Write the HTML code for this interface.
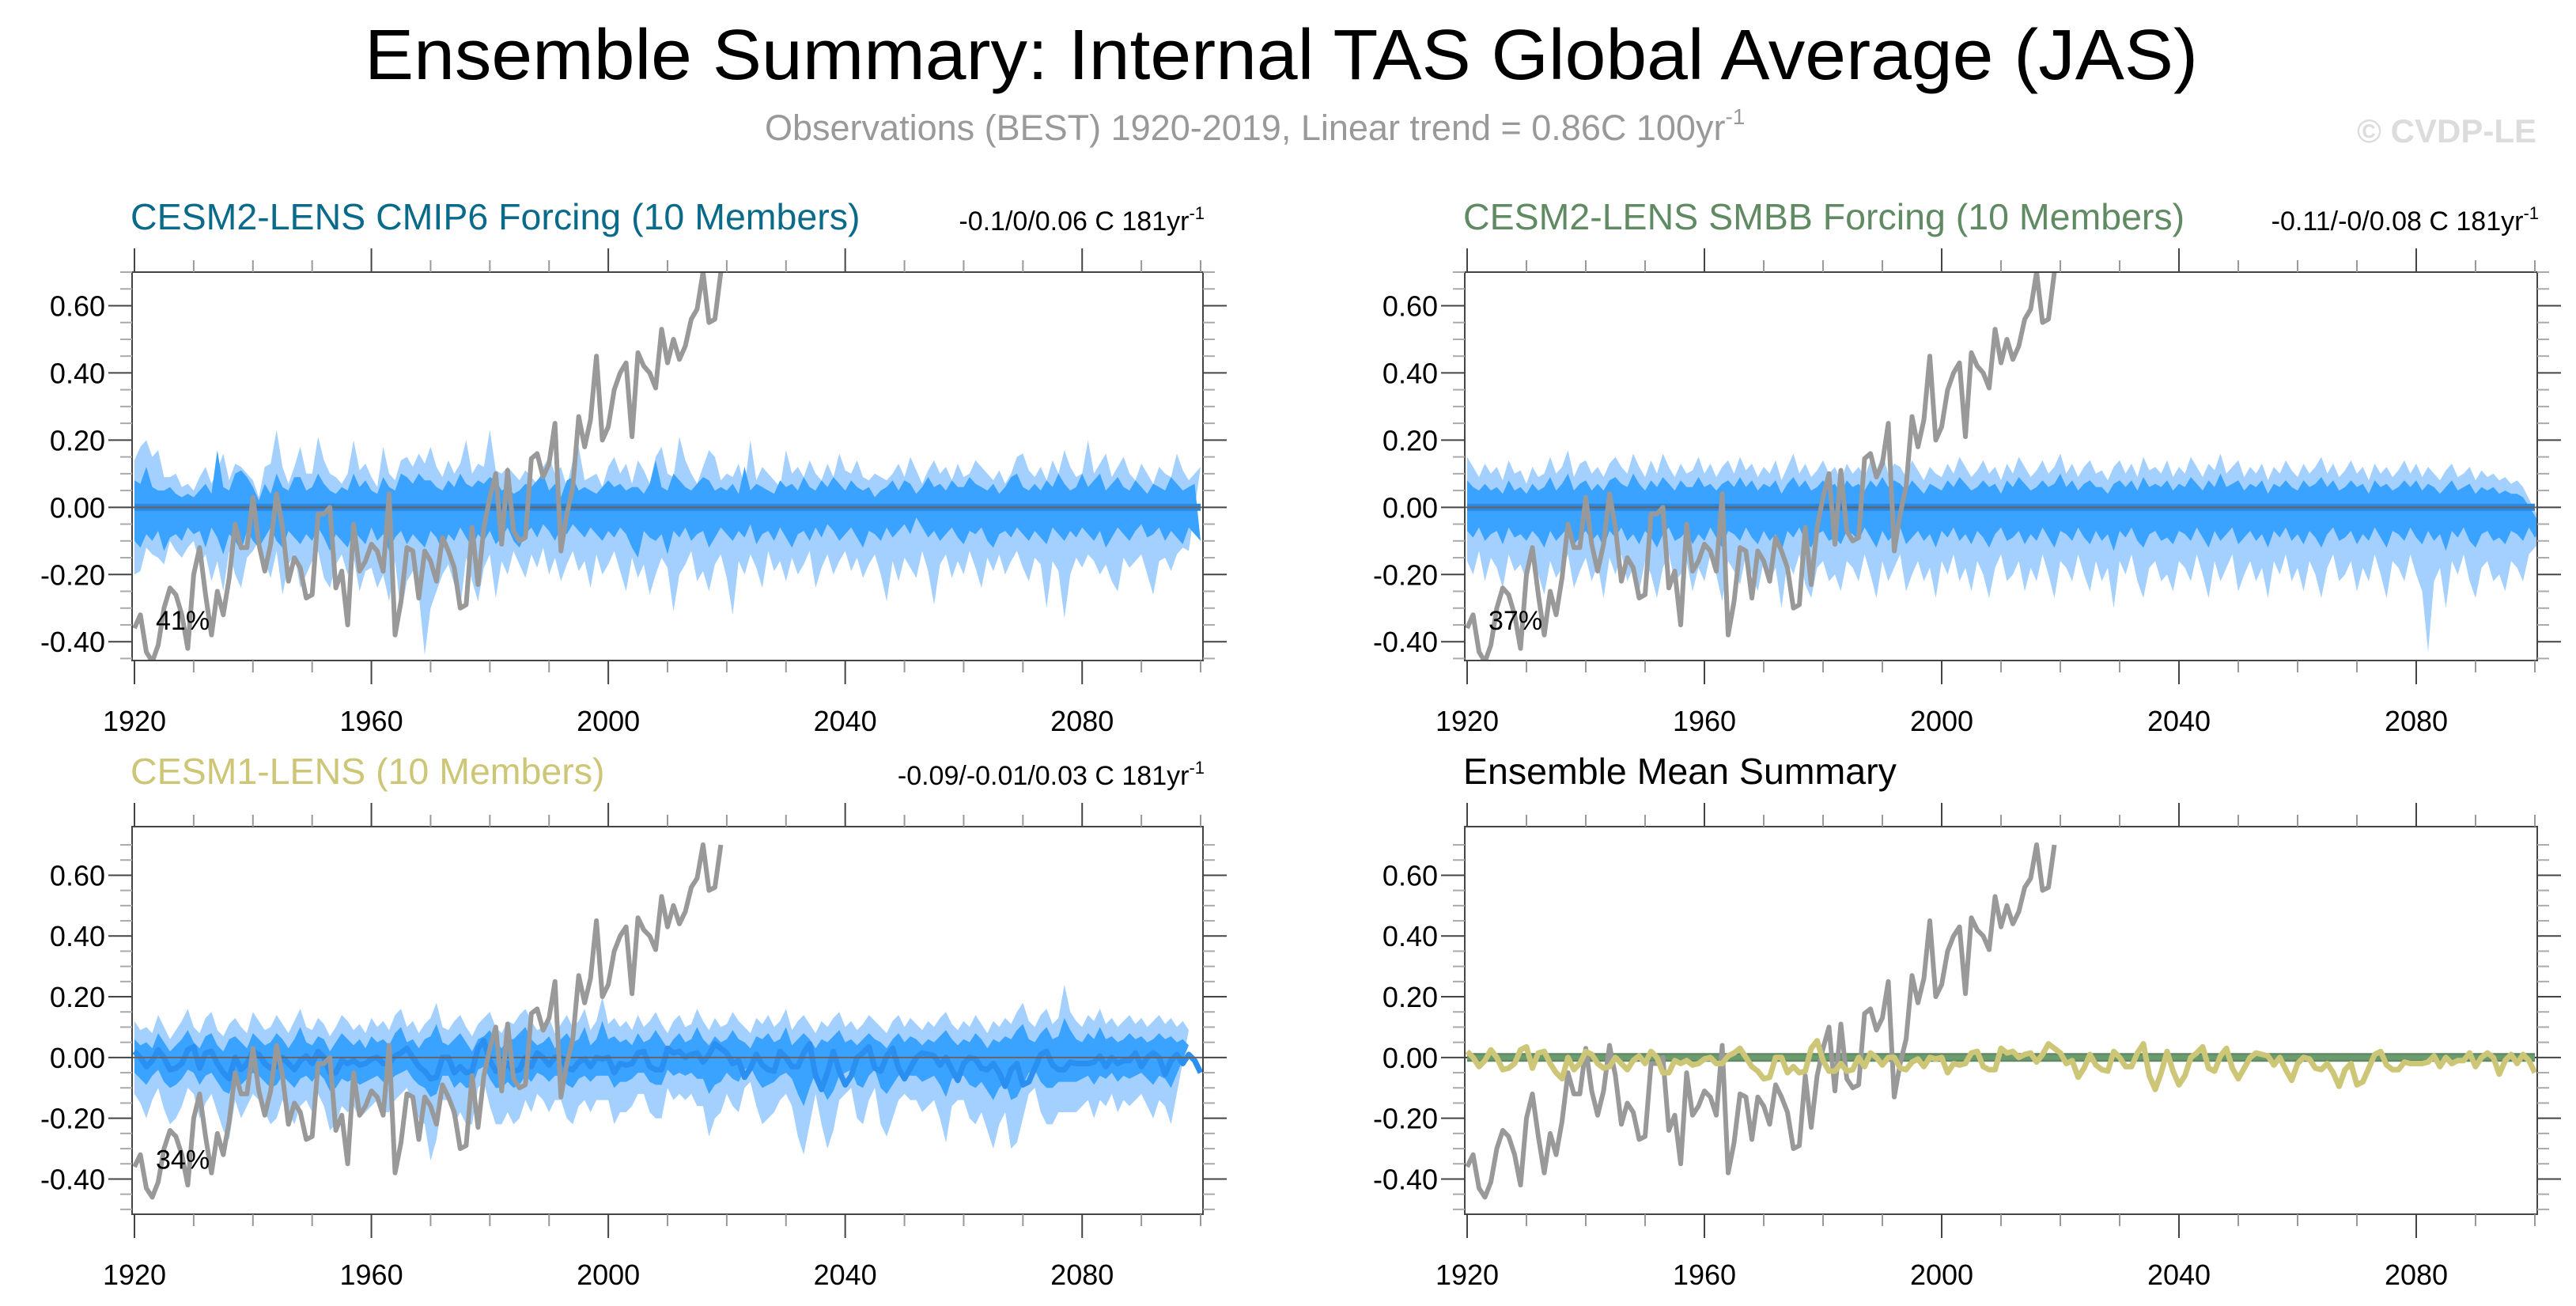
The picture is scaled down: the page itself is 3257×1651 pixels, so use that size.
<!DOCTYPE html>
<html><head><meta charset="utf-8"><title>Ensemble Summary</title>
<style>html,body{margin:0;padding:0;background:#fff}svg{display:block}text{font-family:"Liberation Sans",Arial,sans-serif}</style>
</head><body>
<svg id="chart" width="3257" height="1651" viewBox="0 0 3257 1651" xmlns="http://www.w3.org/2000/svg">
<rect width="3257" height="1651" fill="#fff"/>
<text x="1620" y="100" font-size="90" text-anchor="middle" textLength="2318" lengthAdjust="spacingAndGlyphs">Ensemble Summary: Internal TAS Global Average (JAS)</text>
<text x="967" y="177" font-size="45" fill="#999">Observations (BEST) 1920-2019, Linear trend = 0.86C 100yr<tspan font-size="28" dy="-20">-1</tspan></text>
<text x="3207" y="180" font-size="42" font-weight="bold" fill="#dcdcdc" text-anchor="end">© CVDP-LE</text>
<g id="panels"></g>
</svg>
<script>
const years=[1920,2100];
const xTickLabels=["1920","1960","2000","2040","2080"];
const yTickValues=[-0.4,-0.2,0,0.2,0.4,0.6];
const yTickLabels=["-0.40","-0.20","0.00","0.20","0.40","0.60"];
const obs=[-0.36,-0.32,-0.43,-0.46,-0.41,-0.30,-0.24,-0.26,-0.32,-0.42,-0.20,-0.12,-0.26,-0.38,-0.25,-0.32,-0.21,-0.05,-0.12,-0.12,0.03,-0.11,-0.19,-0.11,0.04,-0.06,-0.22,-0.15,-0.18,-0.27,-0.26,-0.02,-0.02,0.00,-0.24,-0.19,-0.35,-0.05,-0.19,-0.16,-0.11,-0.13,-0.19,0.04,-0.38,-0.28,-0.12,-0.13,-0.27,-0.13,-0.16,-0.22,-0.09,-0.13,-0.18,-0.30,-0.29,-0.06,-0.23,-0.06,0.03,0.10,-0.11,0.11,-0.07,-0.10,-0.09,0.145,0.16,0.09,0.13,0.25,-0.13,-0.02,0.06,0.27,0.18,0.26,0.45,0.20,0.24,0.35,0.40,0.43,0.21,0.46,0.42,0.40,0.355,0.53,0.43,0.50,0.44,0.48,0.56,0.59,0.70,0.55,0.56,0.70];
const cesm1Mean=[0.02,0,-0.03,-0.01,0.025,0,-0.04,-0.035,-0.02,0.025,0.035,-0.035,0.015,0.02,-0.02,-0.05,-0.07,0,-0.04,-0.02,0.02,0.01,-0.02,-0.035,-0.03,0,-0.02,-0.04,-0.01,0.005,-0.02,0.02,0,-0.05,-0.05,-0.01,-0.02,-0.01,-0.025,-0.02,-0.005,0,-0.02,-0.02,0.005,0.015,0.03,0,-0.03,-0.045,-0.07,-0.065,0,0,-0.05,-0.03,-0.05,-0.045,0.03,0.055,-0.01,-0.045,-0.045,-0.02,-0.045,-0.04,0,-0.03,0.015,0,-0.025,0,0,-0.035,-0.04,-0.015,-0.005,-0.03,0,-0.005,0,-0.05,-0.02,-0.025,-0.02,0.015,0.02,-0.03,-0.04,-0.04,0.03,0.015,0.02,0,0.01,0.015,-0.015,0.01,0.045,0.03,0.015,-0.02,-0.01,-0.065,-0.035,0.01,-0.025,-0.04,-0.045,0.02,0,-0.03,-0.03,0.015,0.045,-0.06,-0.105,-0.05,0.02,-0.045,-0.09,-0.06,0,0.015,0.035,-0.035,-0.045,0.005,0.03,-0.035,-0.07,-0.035,0,0.015,0.01,0.005,-0.025,0,-0.04,-0.075,-0.02,0,-0.005,-0.035,-0.04,-0.02,-0.05,-0.095,-0.04,-0.02,-0.09,-0.08,-0.035,0.01,0.02,-0.025,-0.04,-0.04,-0.015,-0.02,-0.02,-0.02,-0.015,0.005,-0.03,0,-0.02,-0.01,-0.01,0.015,-0.03,0,0.015,0,-0.055,-0.01,0.01,-0.02,0.01,-0.01,-0.05];
const cesm2Mean=[0,0,0,0,0,0,0,0,0,0,0,0,0,0,0,0,0,0,0,0,0,0,0,0,0,0,0,0,0,0,0,0,0,0,0,0,0,0,0,0,0,0,0,0,0,0,0,0,0,0,0,0,0,0,0,0,0,0,0,0,0,0,0,0,0,0,0,0,0,0,0,0,0,0,0,0,0,0,0,0,0,0,0,0,0,0,0,0,0,0,0,0,0,0,0,0,0,0,0,0,0,0,0,0,0,0,0,0,0,0,0,0,0,0,0,0,0,0,0,0,0,0,0,0,0,0,0,0,0,0,0,0,0,0,0,0,0,0,0,0,0,0,0,0,0,0,0,0,0,0,0,0,0,0,0,0,0,0,0,0,0,0,0,0,0,0,0,0,0,0,0,0,0,0,0,0,0,0,0,0,0];
const tlLightUp=[0.14,0.18,0.2,0.15,0.17,0.09,0.09,0.1,0.06,0.07,0.05,0.09,0.12,0.07,0.11,0.16,0.08,0.13,0.12,0.1,0.08,0.03,0.12,0.13,0.23,0.12,0.07,0.12,0.18,0.1,0.1,0.21,0.14,0.1,0.09,0.07,0.1,0.2,0.11,0.13,0.09,0.06,0.18,0.1,0.08,0.14,0.15,0.12,0.16,0.13,0.18,0.12,0.09,0.14,0.1,0.13,0.2,0.1,0.13,0.12,0.23,0.11,0.1,0.12,0.1,0.08,0.11,0.09,0.07,0.12,0.15,0.1,0.12,0.06,0.14,0.18,0.08,0.09,0.1,0.06,0.12,0.15,0.1,0.13,0.07,0.14,0.11,0.07,0.15,0.18,0.1,0.09,0.21,0.14,0.1,0.07,0.12,0.17,0.15,0.08,0.1,0.09,0.13,0.06,0.2,0.08,0.12,0.1,0.08,0.06,0.17,0.1,0.12,0.09,0.14,0.1,0.08,0.13,0.09,0.16,0.11,0.1,0.14,0.09,0.08,0.1,0.09,0.08,0.1,0.13,0.09,0.15,0.11,0.07,0.11,0.14,0.1,0.12,0.08,0.13,0.09,0.1,0.14,0.12,0.1,0.08,0.11,0.07,0.1,0.15,0.16,0.11,0.09,0.12,0.08,0.14,0.1,0.17,0.12,0.09,0.1,0.2,0.1,0.13,0.16,0.09,0.12,0.15,0.1,0.08,0.13,0.1,0.07,0.12,0.1,0.09,0.16,0.11,0.08,0.1,0.12];
const tlDarkUp=[0.08,0.07,0.12,0.06,0.05,0.05,0.06,0.04,0.03,0.04,0.03,0.05,0.07,0.04,0.17,0.06,0.05,0.1,0.11,0.09,0.06,0.02,0.07,0.04,0.1,0.06,0.05,0.09,0.09,0.05,0.06,0.1,0.07,0.05,0.04,0.06,0.05,0.1,0.06,0.08,0.05,0.04,0.09,0.06,0.05,0.1,0.09,0.07,0.1,0.08,0.08,0.06,0.05,0.08,0.06,0.1,0.07,0.06,0.08,0.07,0.09,0.08,0.05,0.06,0.04,0.05,0.07,0.06,0.08,0.1,0.05,0.07,0.03,0.08,0.09,0.05,0.06,0.05,0.04,0.06,0.08,0.06,0.07,0.05,0.06,0.06,0.04,0.07,0.14,0.06,0.05,0.1,0.08,0.06,0.05,0.07,0.09,0.08,0.05,0.06,0.05,0.07,0.04,0.12,0.05,0.07,0.06,0.05,0.04,0.08,0.06,0.07,0.05,0.09,0.06,0.05,0.08,0.06,0.09,0.07,0.05,0.08,0.06,0.05,0.06,0.03,0.05,0.06,0.08,0.05,0.08,0.07,0.04,0.06,0.09,0.06,0.07,0.05,0.08,0.06,0.06,0.09,0.07,0.06,0.05,0.07,0.04,0.06,0.09,0.1,0.06,0.05,0.07,0.05,0.08,0.06,0.1,0.07,0.05,0.06,0.1,0.06,0.08,0.1,0.05,0.07,0.09,0.06,0.05,0.08,0.06,0.04,0.07,0.06,0.05,0.09,0.07,0.05,0.06,0.07];
const tlDarkLo=[-0.1,-0.12,-0.08,-0.1,-0.07,-0.13,-0.09,-0.08,-0.1,-0.06,-0.08,-0.07,-0.12,-0.06,-0.09,-0.14,-0.08,-0.1,-0.13,-0.07,-0.1,-0.12,-0.09,-0.06,-0.1,-0.12,-0.07,-0.09,-0.11,-0.08,-0.1,-0.06,-0.09,-0.13,-0.08,-0.1,-0.12,-0.07,-0.09,-0.11,-0.06,-0.1,-0.08,-0.13,-0.09,-0.07,-0.11,-0.08,-0.1,-0.12,-0.07,-0.09,-0.13,-0.08,-0.1,-0.06,-0.09,-0.12,-0.08,-0.1,-0.07,-0.11,-0.09,-0.06,-0.1,-0.12,-0.08,-0.06,-0.09,-0.05,-0.07,-0.1,-0.06,-0.08,-0.05,-0.07,-0.09,-0.06,-0.08,-0.1,-0.07,-0.09,-0.06,-0.08,-0.12,-0.15,-0.07,-0.09,-0.1,-0.08,-0.14,-0.07,-0.09,-0.06,-0.1,-0.08,-0.07,-0.12,-0.09,-0.06,-0.08,-0.1,-0.07,-0.09,-0.05,-0.11,-0.08,-0.07,-0.1,-0.06,-0.09,-0.12,-0.08,-0.07,-0.1,-0.06,-0.09,-0.05,-0.07,-0.1,-0.08,-0.06,-0.09,-0.12,-0.07,-0.08,-0.1,-0.06,-0.09,-0.07,-0.05,-0.08,-0.03,-0.06,-0.09,-0.07,-0.1,-0.08,-0.06,-0.09,-0.11,-0.07,-0.08,-0.06,-0.1,-0.12,-0.08,-0.07,-0.09,-0.06,-0.08,-0.1,-0.07,-0.09,-0.11,-0.06,-0.08,-0.1,-0.07,-0.09,-0.06,-0.08,-0.1,-0.07,-0.12,-0.09,-0.06,-0.08,-0.1,-0.07,-0.05,-0.09,-0.08,-0.06,-0.1,-0.07,-0.09,-0.11,-0.06,-0.08,-0.1];
const tlLightLo=[-0.2,-0.19,-0.12,-0.14,-0.15,-0.17,-0.1,-0.13,-0.15,-0.12,-0.1,-0.17,-0.14,-0.22,-0.16,-0.25,-0.13,-0.2,-0.24,-0.15,-0.13,-0.1,-0.16,-0.21,-0.13,-0.26,-0.17,-0.14,-0.24,-0.2,-0.16,-0.13,-0.21,-0.24,-0.17,-0.14,-0.2,-0.15,-0.25,-0.19,-0.18,-0.24,-0.2,-0.28,-0.16,-0.32,-0.22,-0.19,-0.26,-0.44,-0.3,-0.25,-0.2,-0.17,-0.23,-0.3,-0.15,-0.22,-0.28,-0.18,-0.14,-0.27,-0.16,-0.2,-0.13,-0.17,-0.21,-0.14,-0.18,-0.12,-0.2,-0.15,-0.22,-0.17,-0.13,-0.19,-0.16,-0.24,-0.14,-0.2,-0.17,-0.13,-0.19,-0.25,-0.15,-0.21,-0.17,-0.26,-0.2,-0.15,-0.18,-0.31,-0.2,-0.17,-0.13,-0.22,-0.19,-0.25,-0.17,-0.14,-0.21,-0.32,-0.16,-0.2,-0.14,-0.18,-0.24,-0.13,-0.19,-0.16,-0.22,-0.15,-0.2,-0.17,-0.13,-0.24,-0.18,-0.14,-0.2,-0.16,-0.13,-0.19,-0.15,-0.21,-0.17,-0.14,-0.2,-0.28,-0.16,-0.22,-0.15,-0.18,-0.21,-0.13,-0.19,-0.29,-0.17,-0.14,-0.21,-0.16,-0.2,-0.13,-0.18,-0.24,-0.15,-0.19,-0.14,-0.2,-0.16,-0.13,-0.18,-0.22,-0.15,-0.17,-0.3,-0.16,-0.19,-0.33,-0.2,-0.15,-0.18,-0.14,-0.16,-0.2,-0.17,-0.22,-0.25,-0.15,-0.18,-0.16,-0.14,-0.2,-0.26,-0.16,-0.15,-0.19,-0.14,-0.12,-0.13];
const trLightUp=[0.15,0.12,0.09,0.13,0.1,0.12,0.08,0.14,0.1,0.11,0.07,0.12,0.09,0.1,0.15,0.1,0.12,0.17,0.09,0.13,0.14,0.1,0.12,0.09,0.13,0.15,0.12,0.1,0.16,0.12,0.09,0.14,0.1,0.16,0.12,0.09,0.13,0.1,0.11,0.15,0.1,0.13,0.09,0.12,0.14,0.1,0.15,0.11,0.13,0.09,0.12,0.1,0.14,0.08,0.12,0.16,0.1,0.13,0.09,0.11,0.14,0.1,0.12,0.08,0.13,0.1,0.12,0.09,0.14,0.11,0.16,0.1,0.13,0.12,0.09,0.14,0.11,0.08,0.12,0.1,0.09,0.13,0.1,0.15,0.12,0.09,0.11,0.14,0.1,0.12,0.08,0.13,0.1,0.15,0.12,0.09,0.11,0.14,0.1,0.12,0.16,0.1,0.13,0.09,0.12,0.14,0.1,0.11,0.08,0.12,0.14,0.1,0.13,0.09,0.15,0.11,0.12,0.1,0.14,0.09,0.12,0.1,0.15,0.12,0.09,0.13,0.11,0.16,0.1,0.12,0.14,0.09,0.12,0.1,0.13,0.08,0.12,0.1,0.14,0.11,0.09,0.13,0.1,0.12,0.15,0.1,0.13,0.09,0.11,0.14,0.1,0.12,0.08,0.13,0.1,0.12,0.09,0.11,0.14,0.1,0.13,0.09,0.12,0.1,0.08,0.11,0.13,0.09,0.1,0.12,0.08,0.11,0.09,0.1,0.08,0.09,0.07,0.08,0.06];
const trDarkUp=[0.08,0.06,0.05,0.07,0.05,0.06,0.04,0.08,0.05,0.06,0.04,0.07,0.05,0.06,0.09,0.05,0.07,0.1,0.05,0.07,0.08,0.05,0.07,0.05,0.08,0.09,0.07,0.06,0.1,0.07,0.05,0.08,0.06,0.09,0.07,0.05,0.08,0.06,0.06,0.09,0.06,0.07,0.05,0.07,0.08,0.06,0.09,0.06,0.08,0.05,0.07,0.06,0.08,0.04,0.07,0.09,0.06,0.08,0.05,0.06,0.08,0.06,0.07,0.04,0.08,0.06,0.07,0.05,0.08,0.06,0.09,0.06,0.08,0.07,0.05,0.08,0.06,0.04,0.07,0.06,0.05,0.08,0.06,0.09,0.07,0.05,0.06,0.08,0.06,0.07,0.04,0.08,0.06,0.09,0.07,0.05,0.06,0.08,0.06,0.07,0.1,0.06,0.08,0.05,0.07,0.08,0.06,0.06,0.04,0.07,0.08,0.06,0.08,0.05,0.09,0.06,0.07,0.06,0.08,0.05,0.07,0.06,0.09,0.07,0.05,0.08,0.06,0.1,0.06,0.07,0.08,0.05,0.07,0.06,0.08,0.04,0.07,0.06,0.08,0.06,0.05,0.08,0.06,0.07,0.09,0.06,0.08,0.05,0.06,0.08,0.06,0.07,0.04,0.08,0.06,0.07,0.05,0.06,0.08,0.06,0.08,0.05,0.07,0.06,0.04,0.06,0.08,0.05,0.06,0.07,0.04,0.06,0.05,0.06,0.04,0.05,0.04,0.04,0.03];
const trDarkLo=[-0.07,-0.09,-0.06,-0.1,-0.08,-0.07,-0.11,-0.06,-0.09,-0.08,-0.1,-0.07,-0.09,-0.12,-0.07,-0.1,-0.08,-0.06,-0.11,-0.09,-0.07,-0.1,-0.08,-0.12,-0.07,-0.09,-0.06,-0.1,-0.08,-0.11,-0.07,-0.09,-0.12,-0.08,-0.06,-0.1,-0.09,-0.07,-0.11,-0.08,-0.1,-0.06,-0.09,-0.12,-0.07,-0.08,-0.1,-0.06,-0.09,-0.11,-0.07,-0.1,-0.08,-0.13,-0.07,-0.09,-0.06,-0.1,-0.12,-0.08,-0.07,-0.1,-0.09,-0.11,-0.07,-0.08,-0.1,-0.06,-0.09,-0.12,-0.07,-0.1,-0.08,-0.06,-0.11,-0.09,-0.07,-0.1,-0.08,-0.12,-0.07,-0.09,-0.06,-0.1,-0.08,-0.11,-0.07,-0.09,-0.12,-0.08,-0.06,-0.1,-0.09,-0.07,-0.11,-0.08,-0.1,-0.06,-0.09,-0.12,-0.07,-0.08,-0.1,-0.06,-0.09,-0.11,-0.07,-0.1,-0.08,-0.13,-0.07,-0.09,-0.06,-0.1,-0.12,-0.08,-0.07,-0.1,-0.09,-0.11,-0.07,-0.08,-0.1,-0.06,-0.09,-0.12,-0.07,-0.1,-0.08,-0.06,-0.11,-0.09,-0.07,-0.1,-0.08,-0.12,-0.07,-0.09,-0.06,-0.1,-0.08,-0.11,-0.07,-0.09,-0.12,-0.08,-0.06,-0.1,-0.09,-0.07,-0.11,-0.08,-0.1,-0.06,-0.09,-0.12,-0.07,-0.08,-0.1,-0.06,-0.09,-0.11,-0.07,-0.1,-0.08,-0.13,-0.07,-0.09,-0.06,-0.1,-0.12,-0.08,-0.07,-0.1,-0.09,-0.11,-0.07,-0.08,-0.1,-0.06,-0.09,-0.07,-0.08];
const trLightLo=[-0.16,-0.2,-0.13,-0.22,-0.15,-0.18,-0.24,-0.14,-0.19,-0.17,-0.22,-0.15,-0.2,-0.26,-0.16,-0.21,-0.18,-0.14,-0.24,-0.19,-0.15,-0.22,-0.17,-0.27,-0.15,-0.2,-0.14,-0.22,-0.18,-0.25,-0.16,-0.2,-0.27,-0.18,-0.14,-0.22,-0.2,-0.16,-0.25,-0.18,-0.22,-0.14,-0.2,-0.28,-0.16,-0.19,-0.23,-0.14,-0.2,-0.25,-0.16,-0.22,-0.18,-0.3,-0.16,-0.2,-0.14,-0.23,-0.27,-0.18,-0.16,-0.22,-0.2,-0.25,-0.16,-0.18,-0.22,-0.14,-0.2,-0.27,-0.16,-0.22,-0.18,-0.14,-0.25,-0.2,-0.16,-0.22,-0.18,-0.27,-0.16,-0.2,-0.14,-0.22,-0.18,-0.25,-0.16,-0.2,-0.27,-0.18,-0.14,-0.22,-0.2,-0.16,-0.25,-0.18,-0.22,-0.14,-0.2,-0.27,-0.16,-0.18,-0.22,-0.14,-0.2,-0.25,-0.16,-0.22,-0.18,-0.3,-0.16,-0.2,-0.14,-0.22,-0.27,-0.18,-0.16,-0.22,-0.2,-0.25,-0.16,-0.18,-0.22,-0.14,-0.2,-0.27,-0.16,-0.22,-0.18,-0.14,-0.25,-0.2,-0.16,-0.22,-0.18,-0.27,-0.16,-0.2,-0.14,-0.22,-0.18,-0.25,-0.16,-0.2,-0.27,-0.18,-0.14,-0.22,-0.2,-0.16,-0.25,-0.18,-0.22,-0.14,-0.2,-0.27,-0.16,-0.18,-0.22,-0.14,-0.2,-0.25,-0.43,-0.22,-0.18,-0.3,-0.16,-0.2,-0.14,-0.22,-0.27,-0.18,-0.16,-0.22,-0.2,-0.25,-0.16,-0.18,-0.22,-0.14,-0.12,-0.1,-0.08];
const blLightUp=[0.12,0.09,0.1,0.08,0.14,0.1,0.06,0.09,0.12,0.16,0.1,0.08,0.13,0.15,0.09,0.07,0.11,0.13,0.1,0.08,0.15,0.12,0.09,0.1,0.14,0.11,0.08,0.12,0.16,0.1,0.09,0.13,0.11,0.07,0.1,0.14,0.12,0.09,0.11,0.08,0.13,0.1,0.12,0.09,0.14,0.16,0.1,0.12,0.08,0.11,0.13,0.18,0.1,0.09,0.12,0.14,0.1,0.07,0.11,0.13,0.15,0.1,0.08,0.12,0.11,0.14,0.16,0.12,0.09,0.1,0.13,0.08,0.11,0.14,0.1,0.12,0.16,0.09,0.12,0.2,0.11,0.13,0.1,0.12,0.09,0.14,0.1,0.12,0.15,0.11,0.08,0.12,0.14,0.1,0.11,0.16,0.12,0.09,0.13,0.1,0.11,0.15,0.12,0.1,0.08,0.13,0.11,0.14,0.1,0.12,0.16,0.09,0.12,0.14,0.11,0.08,0.12,0.1,0.13,0.15,0.1,0.12,0.09,0.11,0.14,0.12,0.1,0.08,0.12,0.14,0.1,0.13,0.11,0.09,0.12,0.1,0.13,0.15,0.11,0.09,0.12,0.1,0.14,0.11,0.08,0.12,0.1,0.13,0.11,0.15,0.18,0.12,0.1,0.14,0.16,0.11,0.13,0.24,0.15,0.12,0.1,0.14,0.12,0.16,0.11,0.13,0.1,0.12,0.14,0.11,0.13,0.1,0.12,0.14,0.11,0.13,0.1,0.12,0.09];
const blDarkUp=[0.06,0.04,0.05,0.03,0.08,0.05,0.02,0.04,0.06,0.09,0.05,0.03,0.07,0.08,0.04,0.02,0.06,0.07,0.05,0.03,0.08,0.06,0.04,0.05,0.08,0.06,0.03,0.06,0.1,0.05,0.04,0.07,0.06,0.02,0.05,0.08,0.06,0.04,0.06,0.03,0.07,0.05,0.06,0.04,0.08,0.1,0.05,0.06,0.03,0.06,0.07,0.11,0.05,0.04,0.06,0.08,0.05,0.02,0.06,0.07,0.09,0.05,0.03,0.06,0.06,0.08,0.1,0.06,0.04,0.05,0.07,0.03,0.06,0.08,0.05,0.06,0.1,0.04,0.06,0.12,0.06,0.07,0.05,0.06,0.04,0.08,0.05,0.06,0.09,0.06,0.03,0.06,0.08,0.05,0.06,0.1,0.06,0.04,0.07,0.05,0.06,0.09,0.06,0.05,0.03,0.07,0.06,0.08,0.05,0.06,0.1,0.04,0.06,0.08,0.06,0.03,0.06,0.05,0.07,0.09,0.05,0.06,0.04,0.06,0.08,0.06,0.05,0.03,0.06,0.08,0.05,0.07,0.06,0.04,0.06,0.05,0.07,0.09,0.06,0.04,0.06,0.05,0.08,0.06,0.03,0.06,0.05,0.07,0.06,0.09,0.11,0.06,0.05,0.08,0.1,0.06,0.07,0.13,0.09,0.06,0.05,0.08,0.06,0.1,0.06,0.07,0.05,0.06,0.08,0.06,0.07,0.05,0.06,0.08,0.06,0.07,0.05,0.06,0.04];
const blDarkLo=[-0.05,-0.07,-0.09,-0.06,-0.04,-0.08,-0.1,-0.09,-0.07,-0.04,-0.05,-0.09,-0.06,-0.05,-0.08,-0.11,-0.12,-0.06,-0.09,-0.07,-0.05,-0.06,-0.08,-0.1,-0.09,-0.06,-0.08,-0.1,-0.07,-0.06,-0.08,-0.05,-0.07,-0.11,-0.1,-0.07,-0.08,-0.07,-0.09,-0.08,-0.07,-0.06,-0.08,-0.08,-0.06,-0.05,-0.04,-0.07,-0.09,-0.1,-0.13,-0.12,-0.06,-0.06,-0.1,-0.08,-0.1,-0.1,-0.04,-0.03,-0.07,-0.1,-0.1,-0.08,-0.1,-0.09,-0.06,-0.08,-0.05,-0.06,-0.08,-0.06,-0.06,-0.09,-0.1,-0.07,-0.06,-0.08,-0.06,-0.06,-0.06,-0.1,-0.08,-0.08,-0.07,-0.05,-0.05,-0.08,-0.09,-0.09,-0.04,-0.06,-0.05,-0.06,-0.05,-0.07,-0.07,-0.12,-0.09,-0.08,-0.05,-0.07,-0.08,-0.04,-0.03,-0.07,-0.1,-0.09,-0.08,-0.06,-0.05,-0.07,-0.12,-0.16,-0.1,-0.05,-0.1,-0.14,-0.11,-0.06,-0.05,-0.04,-0.09,-0.1,-0.06,-0.04,-0.1,-0.12,-0.09,-0.06,-0.05,-0.06,-0.06,-0.08,-0.07,-0.06,-0.09,-0.13,-0.07,-0.06,-0.06,-0.09,-0.1,-0.08,-0.11,-0.14,-0.1,-0.08,-0.14,-0.13,-0.09,-0.05,-0.04,-0.08,-0.1,-0.1,-0.08,-0.08,-0.08,-0.08,-0.07,-0.06,-0.09,-0.06,-0.07,-0.05,-0.08,-0.06,-0.07,-0.06,-0.05,-0.07,-0.09,-0.06,-0.07,-0.1];
const blLightLo=[-0.12,-0.15,-0.2,-0.14,-0.1,-0.17,-0.22,-0.2,-0.16,-0.1,-0.12,-0.2,-0.15,-0.12,-0.18,-0.24,-0.27,-0.14,-0.2,-0.16,-0.12,-0.14,-0.18,-0.22,-0.2,-0.14,-0.18,-0.22,-0.16,-0.14,-0.18,-0.12,-0.16,-0.24,-0.22,-0.16,-0.18,-0.16,-0.2,-0.18,-0.16,-0.14,-0.18,-0.18,-0.14,-0.12,-0.1,-0.16,-0.2,-0.22,-0.34,-0.27,-0.14,-0.14,-0.22,-0.18,-0.22,-0.22,-0.1,-0.08,-0.16,-0.22,-0.22,-0.18,-0.22,-0.2,-0.14,-0.18,-0.12,-0.14,-0.18,-0.14,-0.14,-0.2,-0.22,-0.16,-0.14,-0.18,-0.14,-0.14,-0.14,-0.22,-0.18,-0.18,-0.16,-0.12,-0.12,-0.18,-0.2,-0.2,-0.1,-0.14,-0.12,-0.14,-0.12,-0.16,-0.16,-0.26,-0.2,-0.18,-0.12,-0.16,-0.18,-0.1,-0.08,-0.16,-0.22,-0.2,-0.18,-0.14,-0.12,-0.16,-0.26,-0.32,-0.22,-0.12,-0.22,-0.3,-0.24,-0.14,-0.12,-0.1,-0.2,-0.22,-0.14,-0.1,-0.22,-0.26,-0.2,-0.14,-0.12,-0.14,-0.14,-0.18,-0.16,-0.14,-0.2,-0.28,-0.16,-0.14,-0.14,-0.2,-0.22,-0.18,-0.24,-0.3,-0.22,-0.18,-0.3,-0.28,-0.2,-0.12,-0.1,-0.18,-0.22,-0.22,-0.18,-0.18,-0.18,-0.18,-0.16,-0.14,-0.2,-0.14,-0.16,-0.12,-0.18,-0.14,-0.16,-0.14,-0.12,-0.16,-0.2,-0.14,-0.16,-0.22];

const NS="http://www.w3.org/2000/svg";
const root=document.getElementById('panels');
function mk(tag,attrs,parent){const e=document.createElementNS(NS,tag);for(const k in attrs)e.setAttribute(k,attrs[k]);(parent||root).appendChild(e);return e;}

const panels=[
 {key:'cmip6',x0:167,x1:1521,y0:344,y1:835,yMin:-0.456,yMax:0.70,title:'CESM2-LENS CMIP6 Forcing (10 Members)',tcol:'#0a6a8a',stat:'-0.1/0/0.06 C 181yr',pct:'41%',bands:[tlLightUp,tlLightLo,tlDarkUp,tlDarkLo],mean:cesm2Mean},
 {key:'smbb',x0:1852,x1:3208,y0:344,y1:835,yMin:-0.456,yMax:0.70,title:'CESM2-LENS SMBB Forcing (10 Members)',tcol:'#5f8a62',stat:'-0.11/-0/0.08 C 181yr',pct:'37%',bands:[trLightUp,trLightLo,trDarkUp,trDarkLo],mean:cesm2Mean},
 {key:'cesm1',x0:167,x1:1521,y0:1045,y1:1535,yMin:-0.516,yMax:0.76,title:'CESM1-LENS (10 Members)',tcol:'#cdc677',stat:'-0.09/-0.01/0.03 C 181yr',pct:'34%',bands:[blLightUp,blLightLo,blDarkUp,blDarkLo],mean:cesm1Mean},
 {key:'summary',x0:1852,x1:3208,y0:1045,y1:1535,yMin:-0.516,yMax:0.76,title:'Ensemble Mean Summary',tcol:'#000',stat:null,pct:null,bands:null,mean:null}
];

panels.forEach(p=>{
 const g=mk('g',{});
 
 
 const xs=v=>p.x0+3+(v-years[0])/(years[1]-years[0])*(p.x1-p.x0-6);
 const ys=v=>p.y1-(v-p.yMin)/(p.yMax-p.yMin)*(p.y1-p.y0);
 const t=mk('text',{x:p.x0-2,y:p.y0-54,'font-size':46.5,fill:p.tcol},g);t.textContent=p.title;
 
 
 if(p.stat){const s=mk('text',{x:p.x1+2,y:p.y0-53,'font-size':34,'text-anchor':'end'},g);
  
  
  s.textContent=p.stat;const sp=mk('tspan',{'font-size':22,dy:-14},s);sp.textContent='-1';}
 const clip=mk('clipPath',{id:'clip-'+p.key},g);mk('rect',{x:p.x0,y:p.y0,width:p.x1-p.x0,height:p.y1-p.y0},clip);
 const pg=mk('g',{'clip-path':'url(#clip-'+p.key+')'},g);
 function band(up,lo,col,name){let pts=[];up.forEach((v,i)=>pts.push(xs(years[0]+i).toFixed(1)+','+ys(v).toFixed(1)));
  for(let i=lo.length-1;i>=0;i--)pts.push(xs(years[0]+i).toFixed(1)+','+ys(lo[i]).toFixed(1));
  const e=mk('polygon',{points:pts.join(' '),fill:col},pg);
  
  }
 function line(arr,col,w,name){const pts=arr.map((v,i)=>xs(years[0]+i).toFixed(1)+','+ys(v).toFixed(1));
  const e=mk('polyline',{points:pts.join(' '),fill:'none',stroke:col,'stroke-width':w,'stroke-linejoin':'round'},pg);
  
  }
 if(p.bands){band(p.bands[0],p.bands[1],'#a3d0ff','spread-band-light');band(p.bands[2],p.bands[3],'#3aa2ff','spread-band-dark');}
 if(p.key==='summary'){
  mk('line',{x1:p.x0,x2:p.x1,y1:ys(0),y2:ys(0),stroke:'#333','stroke-width':2},pg);
  line(cesm2Mean,'#5f8a62',11,'cesm2-cmip6-mean-line');
  line(cesm2Mean,'#6b9c70',6,'cesm2-smbb-mean-line');
  line(obs,'#999',6,'observations-line');
  line(cesm1Mean,'#cdc677',7,'cesm1-mean-line');
 } else {
  line(p.mean,p.key==='cesm1'?'#2a8ff0':'#2d87dc',p.key==='cesm1'?7:9,'ensemble-mean-line');
  mk('line',{x1:p.x0,x2:p.x1,y1:ys(0),y2:ys(0),stroke:'#666','stroke-width':2},pg);
  line(obs,'#999',6,'observations-line');
 }
 const frame=mk('rect',{x:p.x0,y:p.y0,width:p.x1-p.x0,height:p.y1-p.y0,fill:'none',stroke:'#444','stroke-width':2},g);
 
 
 for(let v=-0.55;v<=0.75;v+=0.05){const r=Math.round(v*100)/100;if(r<p.yMin-0.001||r>p.yMax+0.001)continue;
  const maj=Math.abs(Math.round(r*5)-r*5)<1e-6;const L=maj?30:15;const y=ys(r);const c=maj?'#444':'#aaa';
  mk('line',{x1:p.x0-L,x2:p.x0,y1:y,y2:y,stroke:c,'stroke-width':2},g);
  mk('line',{x1:p.x1,x2:p.x1+L,y1:y,y2:y,stroke:c,'stroke-width':2},g);}
 yTickValues.forEach((v,i)=>{const tx=mk('text',{x:p.x0-34,y:ys(v)+13,'font-size':36,'text-anchor':'end'},g);
  
  
  tx.textContent=yTickLabels[i];});
 for(let yr=1920;yr<=2100;yr+=10){const maj=(yr-1920)%40===0&&yr<2100;const L=maj?30:15;const x=xs(yr);const c=maj?'#444':'#999';
  mk('line',{x1:x,x2:x,y1:p.y0-L,y2:p.y0,stroke:c,'stroke-width':2},g);
  mk('line',{x1:x,x2:x,y1:p.y1,y2:p.y1+L,stroke:c,'stroke-width':2},g);}
 xTickLabels.forEach(l=>{const tx=mk('text',{x:xs(+l),y:p.y1+89,'font-size':36,'text-anchor':'middle'},g);
  
  
  tx.textContent=l;});
 if(p.pct){const pc=mk('text',{x:p.x0+30,y:ys(-0.35)+6,'font-size':34},g);
  
  
  pc.textContent=p.pct;}
});
</script>
</body></html>
